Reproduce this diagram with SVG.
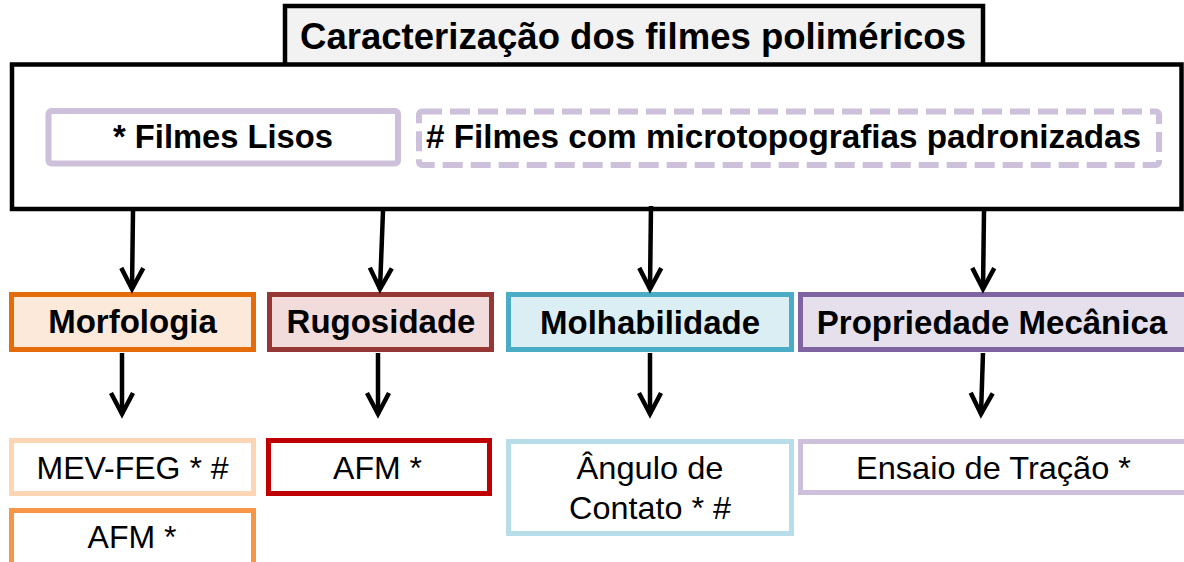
<svg xmlns="http://www.w3.org/2000/svg" width="1184" height="562" viewBox="0 0 1184 562">
<defs>
<style>
text{font-family:"Liberation Sans",Arial,sans-serif;fill:#000;text-anchor:middle}
.b{font-weight:bold;font-size:33px}
.n{font-size:32px}
.box{stroke-width:5}
.conn{stroke:#000;stroke-width:4.5;fill:none;marker-end:url(#ah)}
</style>
<marker id="ah" markerUnits="userSpaceOnUse" markerWidth="40" markerHeight="40" viewBox="-30 -20 40 40" refX="0" refY="0" orient="auto" overflow="visible">
<path d="M-21,-11 L0,0 L-21,11" fill="none" stroke="#000" stroke-width="4.5"/>
</marker>
</defs>
<rect width="1184" height="562" fill="#fff"/>
<g id="title">
<rect x="285" y="6" width="698" height="60" fill="#f2f2f2" stroke="#000" stroke-width="4.5"/>
<text x="633" y="49" style="font-weight:bold;font-size:36px" textLength="666" lengthAdjust="spacingAndGlyphs">Caracterização dos filmes poliméricos</text>
</g>
<g id="main">
<rect x="12" y="64.5" width="1169.5" height="144.5" fill="#fff" stroke="#000" stroke-width="4.5"/>
</g>
<g id="lisos">
<rect x="48.5" y="111" width="349.5" height="52.5" rx="3" fill="#fff" stroke="#ccc0da" stroke-width="6"/>
<text class="b" x="223" y="148" textLength="220" lengthAdjust="spacingAndGlyphs">* Filmes Lisos</text>
</g>
<g id="padronizadas">
<rect x="419" y="111.5" width="740" height="53.5" rx="3" fill="#fff" stroke="#ccc0da" stroke-width="6" stroke-dasharray="20 8"/>
<text class="b" x="783.5" y="148" textLength="715" lengthAdjust="spacingAndGlyphs"># Filmes com microtopografias padronizadas</text>
</g>
<g id="morfologia">
<rect class="box" x="11.5" y="294.5" width="242" height="55" fill="#fde9d9" stroke="#e46c0a"/>
<text class="b" x="132.5" y="333">Morfologia</text>
</g>
<g id="rugosidade">
<rect class="box" x="269.5" y="294.5" width="222" height="55" fill="#f2dcdb" stroke="#953735"/>
<text class="b" x="381" y="333">Rugosidade</text>
</g>
<g id="molhabilidade">
<rect class="box" x="508.5" y="294.5" width="283" height="55" fill="#dbeef4" stroke="#4bacc6"/>
<text class="b" x="650" y="334" textLength="220" lengthAdjust="spacingAndGlyphs">Molhabilidade</text>
</g>
<g id="propriedade">
<rect class="box" x="800.5" y="294.5" width="390" height="55" fill="#e5e0ec" stroke="#8064a2"/>
<text class="b" x="992" y="334">Propriedade Mecânica</text>
</g>
<g id="mevfeg">
<rect class="box" x="11.5" y="440.5" width="242" height="53" fill="#fff" stroke="#fcd5b5"/>
<text class="n" x="132.5" y="479">MEV-FEG * #</text>
</g>
<g id="afm-morf">
<rect class="box" x="11.5" y="510.5" width="242" height="60" fill="#fff" stroke="#f79646"/>
<text class="n" x="132" y="548">AFM *</text>
</g>
<g id="afm-rug">
<rect class="box" x="268.5" y="440.5" width="221" height="53" fill="#fff" stroke="#c00000"/>
<text class="n" x="377.5" y="479">AFM *</text>
</g>
<g id="angulo">
<rect class="box" x="508.5" y="441.5" width="283" height="92" fill="#fff" stroke="#b7dde8"/>
<text class="n" x="650" y="479" textLength="147" lengthAdjust="spacingAndGlyphs">Ângulo de</text>
<text class="n" x="650" y="519" textLength="162" lengthAdjust="spacingAndGlyphs">Contato * #</text>
</g>
<g id="ensaio">
<rect class="box" x="800.5" y="441.5" width="390" height="51" fill="#fff" stroke="#ccc0da"/>
<text class="n" x="993.5" y="479" textLength="275" lengthAdjust="spacingAndGlyphs">Ensaio de Tração *</text>
</g>
<g id="connectors">
<path class="conn" d="M133,211 L132,289"/>
<path class="conn" d="M383,211 L380,289"/>
<path class="conn" d="M651,206 L650,289"/>
<path class="conn" d="M984,211 L983,289"/>
<path class="conn" d="M122,353 L122,414"/>
<path class="conn" d="M378,353 L378,414"/>
<path class="conn" d="M650,353 L650,414"/>
<path class="conn" d="M983,353 L981,414"/>
</g>
</svg>
